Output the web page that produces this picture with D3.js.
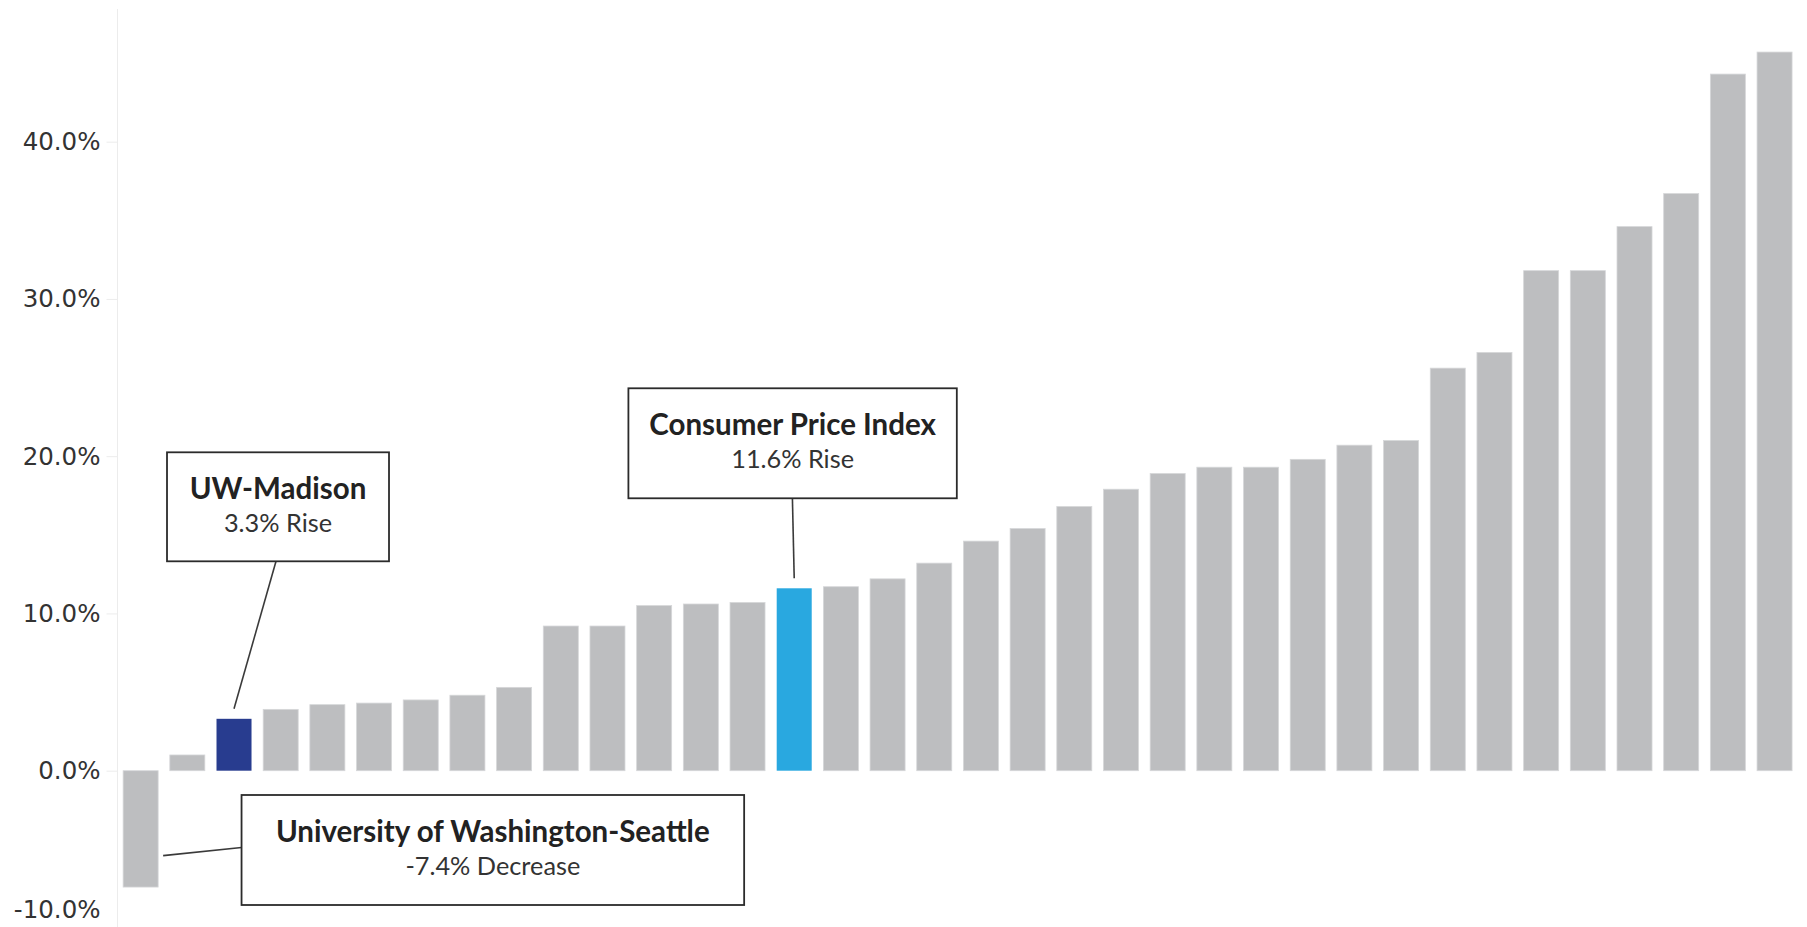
<!DOCTYPE html>
<html>
<head>
<meta charset="utf-8">
<script src="https://cdn.jsdelivr.net/npm/d3@7"></script>
<style>
  html, body { margin: 0; padding: 0; background: #ffffff; }
  svg { display: block; }
</style>
</head>
<body>
<svg id="chart" width="1807" height="927"></svg>
<script>
// ---------------- DATA ----------------
const categories = [
  "University of Washington-Seattle", "Peer 2", "UW-Madison", "Peer 4", "Peer 5", "Peer 6",
  "Peer 7", "Peer 8", "Peer 9", "Peer 10", "Peer 11", "Peer 12", "Peer 13", "Peer 14",
  "Consumer Price Index", "Peer 16", "Peer 17", "Peer 18", "Peer 19", "Peer 20", "Peer 21",
  "Peer 22", "Peer 23", "Peer 24", "Peer 25", "Peer 26", "Peer 27", "Peer 28", "Peer 29",
  "Peer 30", "Peer 31", "Peer 32", "Peer 33", "Peer 34", "Peer 35", "Peer 36"
];
const values = [
  -7.4, 1.0, 3.3, 3.9, 4.2, 4.3, 4.5, 4.8, 5.3, 9.2, 9.2, 10.5, 10.6, 10.7,
  11.6, 11.7, 12.2, 13.2, 14.6, 15.4, 16.8, 17.9, 18.9, 19.3, 19.3, 19.8, 20.7, 21.0,
  25.6, 26.6, 31.8, 31.8, 34.6, 36.7, 44.3, 45.7
];
const tickValues = [-10, 0, 10, 20, 30, 40];
const tickLabels = ["-10.0%", "0.0%", "10.0%", "20.0%", "30.0%", "40.0%"];

const annotations = [
  { category: "UW-Madison", title: "UW-Madison", sub: "3.3% Rise" },
  { category: "Consumer Price Index", title: "Consumer Price Index", sub: "11.6% Rise" },
  { category: "University of Washington-Seattle", title: "University of Washington-Seattle", sub: "-7.4% Decrease" }
];

// ---------------- STYLE / LAYOUT ----------------
const colors = {
  bar: "#bdbec0",
  barStroke: "#d6d7d9",
  highlight: { "UW-Madison": "#283c8f", "Consumer Price Index": "#29a8e0" },
  axis: "#ececec",
  text: "#333333",
  box: "#2b2b2b",
  leader: "#3a3a3a"
};

const svg = d3.select("#chart");
const W = 1807, H = 927;

const x = d3.scaleBand()
  .domain(categories)
  .range([117.3, 1797.9])
  .paddingInner(0.25)
  .paddingOuter(0.125);

const y = d3.scaleLinear()
  .domain([-10, 40])
  .range([927.95, 141.7]);

const axisX = 117;

// ---------------- AXIS ----------------
svg.append("line")
  .attr("x1", axisX + 0.5).attr("x2", axisX + 0.5)
  .attr("y1", 9).attr("y2", H)
  .attr("stroke", colors.axis).attr("stroke-width", 1);

const yAxis = d3.axisLeft(y)
  .tickValues(tickValues)
  .tickSize(11)
  .tickPadding(6)
  .tickFormat((d, i) => tickLabels[i]);

const gAxis = svg.append("g")
  .attr("transform", `translate(${axisX + 0.5},0)`)
  .call(yAxis);
gAxis.select(".domain").remove();
gAxis.selectAll(".tick line").attr("stroke", colors.axis);
gAxis.selectAll(".tick text")
  .attr("fill", colors.text)
  .style("font-family", "'DejaVu Sans', sans-serif")
  .style("font-size", "24.5px");
// keep the bottom label inside the view (as the original does)
gAxis.selectAll(".tick text").filter(d => d === -10).attr("dy", "-0.42em");

// ---------------- BARS ----------------
svg.append("g").selectAll("rect")
  .data(categories)
  .join("rect")
  .attr("x", d => x(d))
  .attr("width", x.bandwidth())
  .attr("y", (d, i) => y(Math.max(0, values[i])))
  .attr("height", (d, i) => Math.abs(y(values[i]) - y(0)))
  .attr("fill", d => colors.highlight[d] || colors.bar)
  .attr("stroke", d => colors.highlight[d] ? "none" : colors.barStroke)
  .attr("stroke-width", 0.8);

// ---------------- ANNOTATIONS ----------------
// offsets relative to each bar's anchor (pixels)
const annLayout = {
  "UW-Madison": { boxDx: 44, boxTop: -266.5, w: 222, h: 109, lineStartDx: 42, lineEndDy: -10, side: "top" },
  "Consumer Price Index": { boxDx: -1.6, boxTop: -200, w: 328.4, h: 110, lineStartDx: -1.8, lineEndDy: -10, side: "top" },
  "University of Washington-Seattle": { gap: 78.4, boxTop: 795, w: 502.6, h: 110, side: "right", anchorValue: -5.4 }
};

const gAnn = svg.append("g");
annotations.forEach(a => {
  const i = categories.indexOf(a.category);
  const v = values[i];
  const L = annLayout[a.category];
  const cx = x(a.category) + x.bandwidth() / 2;
  let bx, by, lx1, ly1, lx2, ly2;
  if (L.side === "top") {
    const ay = y(v);
    bx = cx + L.boxDx - L.w / 2;
    by = ay + L.boxTop;
    lx1 = cx + L.lineStartDx; ly1 = by + L.h;
    lx2 = cx; ly2 = ay + L.lineEndDy;
  } else {
    const ax = x(a.category) + x.bandwidth() + 5;
    const ay = y(L.anchorValue);
    bx = ax + L.gap; by = L.boxTop;
    lx1 = ax; ly1 = ay;
    lx2 = bx; ly2 = by + L.h / 2 - 2.5;
  }
  gAnn.append("line")
    .attr("x1", lx1).attr("y1", ly1).attr("x2", lx2).attr("y2", ly2)
    .attr("stroke", colors.leader).attr("stroke-width", 1.6);
  gAnn.append("rect")
    .attr("x", bx).attr("y", by).attr("width", L.w).attr("height", L.h)
    .attr("fill", "#ffffff").attr("stroke", colors.box).attr("stroke-width", 1.8);
  gAnn.append("text")
    .attr("x", bx + L.w / 2).attr("y", by + 47)
    .attr("text-anchor", "middle")
    .attr("fill", "#222222")
    .style("font-family", "Lato, sans-serif")
    .style("font-weight", "700")
    .style("font-size", "29.5px")
    .text(a.title);
  gAnn.append("text")
    .attr("x", bx + L.w / 2).attr("y", by + 80)
    .attr("text-anchor", "middle")
    .attr("fill", colors.text)
    .style("font-family", "Lato, sans-serif")
    .style("font-size", "25.3px")
    .text(a.sub);
});
</script>
</body>
</html>
